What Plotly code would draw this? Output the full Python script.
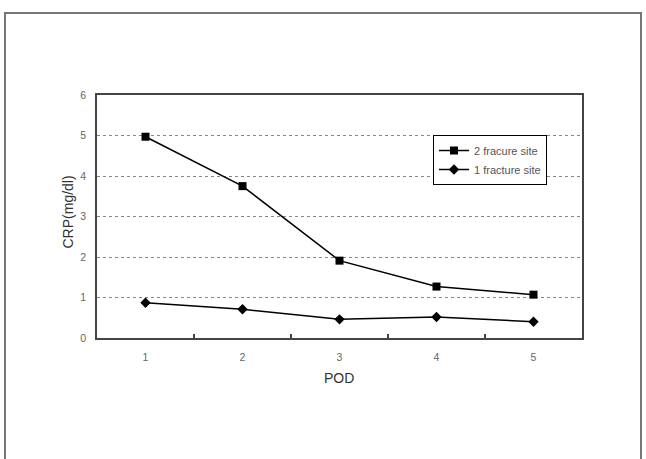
import plotly.graph_objects as go

pod = [1, 2, 3, 4, 5]
two_site = [4.97, 3.75, 1.91, 1.27, 1.07]
one_site = [0.87, 0.71, 0.46, 0.52, 0.40]
x_tick_labels = ["1", "2", "3", "4", "5"]
y_tick_vals = [0, 1, 2, 3, 4, 5, 6]

L, R, T, B = 97, 64, 95, 121
W, H = 646, 459
pw, ph = W - L - R, H - T - B

def px_x(p):
    return (p - L) / pw

def px_y(p):
    return (H - B - p) / ph

fig = go.Figure()
fig.add_trace(go.Scatter(
    x=pod, y=two_site, name="2 fracure site", mode="lines+markers",
    line=dict(color="black", width=1.5),
    marker=dict(symbol="square", size=8, color="black"),
))
fig.add_trace(go.Scatter(
    x=pod, y=one_site, name="1 fracture site", mode="lines+markers",
    line=dict(color="black", width=1.5),
    marker=dict(symbol="diamond", size=8, color="black"),
))

font = "Liberation Sans, Arial, sans-serif"

fig.update_layout(
    width=W, height=H,
    margin=dict(l=L, r=R, t=T, b=B, pad=0),
    paper_bgcolor="white", plot_bgcolor="white",
    font=dict(family=font, color="#444"),
    showlegend=True,
    legend=dict(
        x=px_x(433), y=px_y(135), xanchor="left", yanchor="top",
        bordercolor="black", borderwidth=1, bgcolor="white",
        font=dict(size=11, color="#555", family=font),
        tracegroupgap=0, itemwidth=30,
    ),
    xaxis=dict(
        range=[0.5, 5.5], tickmode="array", tickvals=pod, ticktext=x_tick_labels,
        ticks="outside", ticklen=9, tickcolor="rgba(0,0,0,0)",
        tickfont=dict(size=10.5, color="#666"),
        showgrid=False, zeroline=False,
        showline=True, linecolor="#444", linewidth=1.5, mirror=True,
        minor=dict(tickmode="array", tickvals=[1.5, 2.5, 3.5, 4.5],
                   ticks="inside", ticklen=4, tickcolor="#444", tickwidth=1.5,
                   showgrid=False),
    ),
    yaxis=dict(
        range=[0, 6], tickmode="array", tickvals=y_tick_vals,
        ticks="outside", ticklen=7, tickcolor="rgba(0,0,0,0)",
        tickfont=dict(size=10.5, color="#666"),
        showgrid=True, gridcolor="#888", griddash="dot", gridwidth=1,
        zeroline=False,
        showline=True, linecolor="#444", linewidth=1.5, mirror=True,
    ),
    annotations=[
        dict(text="CRP(mg/dl)", x=px_x(67.5), y=px_y(212), xref="paper", yref="paper",
             textangle=-90, showarrow=False, font=dict(size=14, color="#333", family=font),
             xanchor="center", yanchor="middle"),
        dict(text="POD", x=px_x(339), y=px_y(378), xref="paper", yref="paper",
             showarrow=False, font=dict(size=14, color="#333", family=font),
             xanchor="center", yanchor="middle"),
    ],
    shapes=[
        dict(type="rect", xref="paper", yref="paper",
             x0=px_x(5), x1=px_x(641), y0=px_y(470), y1=px_y(13),
             line=dict(color="#777", width=2), layer="below"),
    ],
)

fig.write_html("out.html")
